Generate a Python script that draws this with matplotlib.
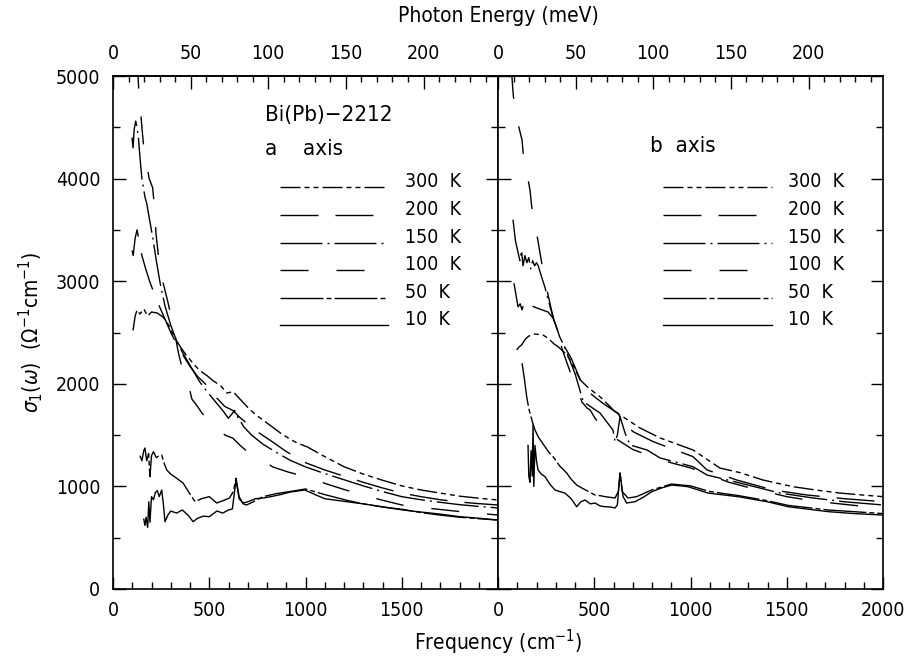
import matplotlib
matplotlib.use("Agg")
import matplotlib.pyplot as plt
from matplotlib import font_manager
from matplotlib.ticker import MultipleLocator, FixedLocator, FuncFormatter

# a narrow sans is closest to the original lettering; take what is installed
ttf = font_manager.fontManager.ttflist
names = {f.name for f in ttf}
STRETCH = 'normal'
if 'Liberation Sans Narrow' in names:
    FONT = 'Liberation Sans Narrow'
elif any(f.name == 'DejaVu Sans' and f.stretch == 'condensed' for f in ttf):
    FONT, STRETCH = 'DejaVu Sans', 'condensed'
else:
    FONT = 'Liberation Sans'
plt.rcParams['font.family'] = [FONT, 'DejaVu Sans']
plt.rcParams['font.stretch'] = STRETCH
plt.rcParams['mathtext.fontset'] = 'custom'
plt.rcParams['mathtext.rm'] = FONT
plt.rcParams['mathtext.it'] = FONT + ':italic'
plt.rcParams['mathtext.bf'] = FONT + ':bold'

CM_PER_MEV = 8.0655

# ---- a axis (left panel) ----
a_x_300 = [104, 115, 125, 140, 160, 180, 200, 230, 260, 290, 320, 350, 380, 416, 450, 488, 520, 560, 592, 624,
           660, 700, 740, 779, 820, 870, 920, 960, 1007, 1100, 1200, 1300, 1400, 1500, 1600, 1700, 1800, 1900, 2000]
a_y_300 = [2520, 2660, 2720, 2680, 2730, 2660, 2700, 2690, 2650, 2570, 2450, 2360, 2280, 2200, 2130, 2080, 2030, 1980, 1910, 1923,
           1850, 1770, 1700, 1647, 1590, 1520, 1460, 1420, 1387, 1290, 1192, 1120, 1060, 1005, 965, 935, 905, 885, 867]

a_x_200 = [99, 105, 115, 125, 135, 150, 170, 190, 210, 240, 270, 300, 330, 360, 400, 440, 468, 500, 540, 580, 623,
           660, 712, 760, 816, 900, 1000, 1100, 1200, 1300, 1400, 1500, 1600, 1700, 1800, 1900, 2000]
a_y_200 = [3300, 3250, 3420, 3500, 3400, 3250, 3120, 3000, 2900, 2760, 2630, 2500, 2390, 2290, 2170, 2070, 2020, 1960, 1860, 1780, 1740,
           1670, 1590, 1520, 1450, 1340, 1231, 1160, 1100, 1040, 985, 935, 900, 870, 848, 832, 819]

a_x_150 = [99, 104, 110, 118, 125, 132, 140, 150, 166, 175, 190, 206, 225, 245, 270, 300, 330, 360, 400, 450, 490, 530, 570,
           599, 615, 632, 650, 680, 720, 780, 850, 920, 1000, 1100, 1200, 1300, 1400, 1500, 1600, 1700, 1800, 1900, 2000]
a_y_150 = [4400, 4300, 4480, 4560, 4500, 4400, 4210, 4000, 3820, 3760, 3600, 3430, 3200, 2980, 2760, 2570, 2420, 2310, 2180, 2020, 1920, 1830, 1740,
           1664, 1700, 1740, 1670, 1580, 1500, 1410, 1330, 1255, 1190, 1125, 1065, 1005, 950, 900, 870, 845, 822, 805, 790]

a_x_100 = [128, 131, 136, 142, 150, 160, 171, 187, 206, 218, 223, 244, 253, 286, 320, 340, 358, 390, 410, 441, 462, 514, 540,
           582, 623, 660, 722, 780, 831, 910, 970, 1000, 1100, 1200, 1300, 1400, 1500, 1600, 1700, 1800, 1900, 2000]
a_y_100 = [5150, 4960, 4800, 4700, 4500, 4300, 4200, 4006, 3910, 3675, 3470, 3110, 3040, 2790, 2500, 2300, 2165, 2008, 1850, 1774, 1715, 1600, 1570,
           1500, 1470, 1400, 1300, 1250, 1189, 1140, 1110, 1095, 1030, 970, 915, 865, 819, 795, 775, 755, 738, 721]

a_x_50 = [140, 150, 160, 166, 175, 185, 192, 200, 210, 225, 240, 253, 265, 279, 300, 330, 364, 395, 426, 460, 500, 539, 570,
          605, 625, 639, 655, 676, 694, 740, 779, 850, 920, 1000, 1100, 1214, 1300, 1400, 1507, 1600, 1700, 1800, 1900, 2000]
a_y_50 = [1300, 1250, 1350, 1374, 1250, 1320, 1095, 1300, 1338, 1280, 1300, 1306, 1230, 1160, 1120, 1080, 1033, 940, 851, 880, 900, 838, 860,
          887, 950, 1080, 900, 830, 819, 860, 900, 930, 950, 975, 920, 865, 830, 800, 775, 745, 720, 700, 685, 672]

a_x_10 = [160, 166, 172, 180, 186, 192, 200, 210, 220, 230, 240, 253, 262, 270, 285, 300, 330, 360, 390, 416, 440, 470, 500, 540,
          570, 600, 620, 639, 655, 676, 700, 740, 779, 820, 870, 920, 997, 1050, 1100, 1214, 1300, 1400, 1507, 1600, 1700, 1800, 1900, 2000]
a_y_10 = [680, 620, 700, 600, 850, 650, 900, 870, 940, 960, 900, 965, 820, 656, 720, 760, 740, 770, 720, 656, 690, 710, 705, 760,
          740, 770, 780, 1062, 880, 838, 850, 880, 887, 900, 920, 945, 965, 920, 880, 851, 830, 800, 770, 750, 730, 705, 690, 672]

# ---- b axis (right panel) ----
b_x_300 = [97, 110, 123, 140, 156, 175, 192, 215, 234, 255, 270, 290, 312, 348, 380, 426, 470, 530, 570, 608, 660,
           738, 842, 1013, 1153, 1257, 1377, 1533, 1650, 1777, 1900, 2000]
b_y_300 = [2330, 2360, 2380, 2430, 2460, 2480, 2485, 2480, 2475, 2450, 2427, 2390, 2362, 2300, 2220, 2040, 1960, 1874, 1800, 1728, 1665,
           1569, 1472, 1355, 1179, 1134, 1062, 997, 965, 935, 915, 900]

b_x_200 = [83, 95, 104, 115, 125, 135, 150, 175, 200, 230, 260, 286, 310, 340, 380, 443, 490, 545, 600, 623,
           650, 702, 806, 1013, 1086, 1241, 1429, 1605, 1800, 2000]
b_y_200 = [2980, 2850, 2750, 2780, 2720, 2790, 2730, 2760, 2740, 2720, 2700, 2640, 2520, 2380, 2250, 1972, 1890, 1810, 1740, 1715,
           1620, 1533, 1436, 1290, 1160, 1062, 965, 916, 880, 851]

b_x_150 = [78, 90, 104, 114, 122, 130, 140, 150, 160, 170, 180, 190, 200, 209, 220, 244, 260, 286, 320, 350, 400, 443, 530,
           597, 608, 620, 634, 660, 686, 774, 842, 1013, 1086, 1257, 1465, 1637, 1800, 2000]
b_y_150 = [3600, 3400, 3280, 3200, 3300, 3150, 3250, 3180, 3230, 3120, 3200, 3150, 3180, 3150, 3080, 2940, 2820, 2650, 2460, 2340, 2100, 1826, 1715,
           1550, 1436, 1500, 1680, 1520, 1404, 1355, 1277, 1192, 1111, 1033, 935, 887, 850, 819]

b_x_100 = [70, 80, 102, 125, 135, 150, 166, 177, 192, 225, 250, 280, 310, 340, 390, 410, 436, 462, 478, 504,
           530, 556, 600, 650, 700, 800, 900, 1000, 1100, 1200, 1300, 1400, 1500, 1600, 1700, 1800, 1900, 2000]
b_y_100 = [5050, 4800, 4550, 4375, 4160, 4055, 3890, 3694, 3567, 3200, 2950, 2700, 2480, 2300, 2037, 1960, 1823, 1765, 1745, 1665,
           1600, 1530, 1480, 1420, 1360, 1290, 1230, 1180, 1110, 1040, 990, 945, 900, 870, 845, 825, 805, 790]

b_x_50 = [125, 137, 149, 160, 166, 180, 192, 210, 244, 265, 286, 320, 357, 380, 409, 440, 470, 504, 530, 556, 608,
          625, 634, 645, 675, 720, 798, 902, 1000, 1100, 1250, 1400, 1507, 1715, 2000]
b_y_50 = [2200, 2050, 1874, 1760, 1715, 1620, 1550, 1480, 1387, 1330, 1290, 1200, 1130, 1070, 1013, 980, 950, 916, 910, 900, 887,
          950, 1130, 950, 887, 900, 965, 1023, 1005, 950, 910, 860, 815, 770, 735]

b_x_10 = [156, 160, 166, 172, 178, 182, 186, 192, 200, 208, 225, 244, 270, 296, 320, 348, 380, 409, 430, 452, 480, 504, 530,
          556, 580, 608, 620, 634, 650, 668, 712, 760, 798, 850, 902, 950, 987, 1091, 1247, 1400, 1507, 1715, 1850, 2000]
b_y_10 = [1400, 1100, 1040, 1350, 1100, 1600, 1000, 1400, 1250, 1160, 1120, 1095, 1020, 965, 950, 935, 880, 802, 850, 867, 830, 838, 810,
          802, 800, 790, 820, 1130, 900, 838, 851, 900, 948, 985, 1013, 1005, 997, 935, 900, 850, 802, 754, 735, 721]

temps = ['300 K', '200 K', '150 K', '100 K', '50 K', '10 K']


def px(seq):
    # dash pattern given in pixels at dpi 100 -> points
    return (0, tuple(v * 0.72 for v in seq))


styles = {
    '300 K': px([20, 4, 5, 4, 5, 4]),
    '200 K': px([38, 17]),
    '150 K': px([42, 5, 2, 5]),
    '100 K': px([28, 28]),
    '50 K': px([43, 3, 5, 3]),
    '10 K': '-',
}

a_data = {'300 K': (a_x_300, a_y_300), '200 K': (a_x_200, a_y_200), '150 K': (a_x_150, a_y_150),
          '100 K': (a_x_100, a_y_100), '50 K': (a_x_50, a_y_50), '10 K': (a_x_10, a_y_10)}
b_data = {'300 K': (b_x_300, b_y_300), '200 K': (b_x_200, b_y_200), '150 K': (b_x_150, b_y_150),
          '100 K': (b_x_100, b_y_100), '50 K': (b_x_50, b_y_50), '10 K': (b_x_10, b_y_10)}

fig = plt.figure(figsize=(9.08, 6.64), dpi=100)
L, B, W, H = 113 / 908, 1 - 589 / 664, 385 / 908, 513 / 664
ax_a = fig.add_axes([L, B, W, H])
ax_b = fig.add_axes([L + W, B, W, H])

FS = 14
LW = 1.0

for ax, data, legx0, legx1, textx in [(ax_a, a_data, 0.434, 0.714, 0.758),
                                      (ax_b, b_data, 0.4286, 0.7117, 0.753)]:
    for t in temps:
        x, y = data[t]
        ax.plot(x, y, color='black', lw=LW, linestyle=styles[t])
    # legend rows drawn by hand
    rows = [0.7836, 0.729, 0.6745, 0.6218, 0.5673, 0.5146]
    for t, ry in zip(temps, rows):
        ax.plot([legx0, legx1], [ry, ry], transform=ax.transAxes, color='black',
                lw=LW, linestyle=styles[t])
        ax.text(textx, ry, t.replace(' ', '  '), transform=ax.transAxes, fontsize=FS,
                ha='left', va='baseline')

    ax.set_xlim(0, 2000)
    ax.set_ylim(0, 5000)
    ax.xaxis.set_major_locator(MultipleLocator(500))
    ax.xaxis.set_minor_locator(MultipleLocator(100))
    ax.yaxis.set_major_locator(MultipleLocator(1000))
    ax.yaxis.set_minor_locator(MultipleLocator(500))
    ax.tick_params(which='both', direction='in', left=True, right=True, bottom=True, top=False,
                   labelsize=FS, width=1.0)
    ax.tick_params(which='major', length=9)
    ax.tick_params(which='minor', length=5)
    ax.tick_params(axis='x', pad=9)
    ax.tick_params(axis='y', pad=9)
    for s in ax.spines.values():
        s.set_linewidth(1.2)

    sec = ax.secondary_xaxis('top', functions=(lambda c: c / CM_PER_MEV, lambda e: e * CM_PER_MEV))
    sec.xaxis.set_major_locator(FixedLocator([0, 50, 100, 150, 200]))
    sec.xaxis.set_minor_locator(MultipleLocator(10))
    sec.tick_params(which='both', direction='in', labelsize=FS, width=1.0, pad=9)
    sec.tick_params(which='major', length=9)
    sec.tick_params(which='minor', length=4.5)
    sec.spines['top'].set_linewidth(1.2)

ax_a.xaxis.set_major_formatter(FuncFormatter(lambda v, p: '' if v >= 2000 else '%d' % v))
ax_b.tick_params(labelleft=False)

ax_a.set_ylabel(r'$\sigma_1(\omega)$  ($\Omega^{-1}$cm$^{-1}$)', fontsize=15, labelpad=8)

ax_a.text(0.395, 0.924, 'Bi(Pb)\u22122212', transform=ax_a.transAxes, fontsize=16,
          ha='left', va='center')
ax_a.text(0.395, 0.8577, 'a    axis', transform=ax_a.transAxes, fontsize=16,
          ha='left', va='center')
ax_b.text(0.395, 0.8635, 'b  axis', transform=ax_b.transAxes, fontsize=16,
          ha='left', va='center')

fig.text(498 / 908, 1 - 16 / 664, 'Photon Energy (meV)', fontsize=15, ha='center', va='center')
fig.text(498 / 908, 1 - 642 / 664, r'Frequency (cm$^{-1}$)', fontsize=15, ha='center', va='center')

fig.savefig('out.png', dpi=100)
